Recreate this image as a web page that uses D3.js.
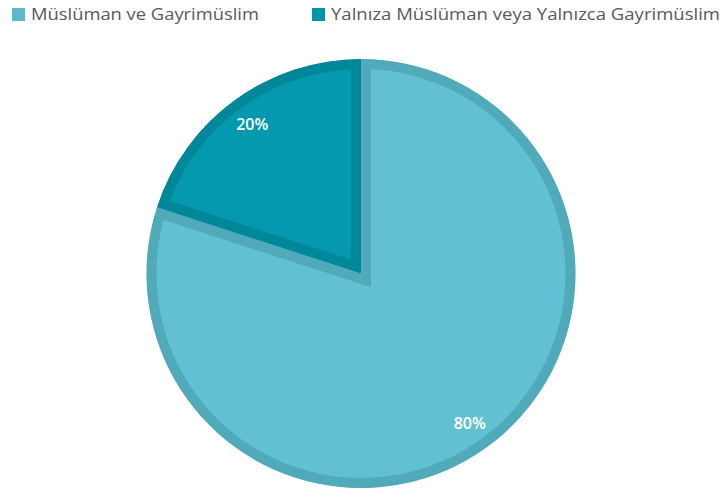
<!DOCTYPE html>
<html>
<head>
<meta charset="utf-8">
<script src="https://cdn.jsdelivr.net/npm/d3@7"></script>
<style>
  html, body { margin: 0; padding: 0; background: #ffffff; }
  svg { display: block; }
</style>
</head>
<body>
<div id="chart"></div>
<script>
const categories = ["Müslüman ve Gayrimüslim", "Yalnıza Müslüman veya Yalnızca Gayrimüslim"];
const values = [80, 20];
const labels = ["80%", "20%"];
const fillColors = ["#62c0d3", "#0499ae"];
const borderColors = ["#51aab9", "#01879a"];
const legendColors = ["#5ab9cc", "#0095a8"];

const W = 722, H = 493;
const cx = 361, cy = 273.5, R = 214.5;
const border = 10;

const svg = d3.select("#chart").append("svg")
  .attr("width", W).attr("height", H);

const pie = d3.pie().sort(null).value(d => d);
const arcs = pie(values);
const arc = d3.arc().innerRadius(0).outerRadius(R);
const labelArc = d3.arc().innerRadius(185).outerRadius(185);

const defs = svg.append("defs");
arcs.forEach((a, i) => {
  defs.append("clipPath").attr("id", "clip" + i)
    .append("path").attr("d", arc(a));
});

const g = svg.append("g").attr("transform", `translate(${cx},${cy})`);

g.selectAll("path.slice")
  .data(arcs)
  .join("path")
  .attr("class", "slice")
  .attr("d", arc)
  .attr("fill", (d, i) => fillColors[i])
  .attr("stroke", (d, i) => borderColors[i])
  .attr("stroke-width", border * 2)
  .attr("stroke-linejoin", "miter")
  .attr("clip-path", (d, i) => `url(#clip${i})`);

g.selectAll("text.lbl")
  .data(arcs)
  .join("text")
  .attr("class", "lbl")
  .attr("transform", d => `translate(${labelArc.centroid(d)})`)
  .attr("text-anchor", "middle")
  .attr("dy", "0.36em")
  .attr("fill", "#ffffff")
  .attr("font-family", "'Open Sans', 'DejaVu Sans', sans-serif")
  .attr("font-weight", 600)
  .attr("font-size", 16)
  .text((d, i) => labels[i]);

// Legend
const legendX = [12, 312];
const legendTextLen = [228, 389];
const lg = svg.append("g");
categories.forEach((c, i) => {
  lg.append("rect")
    .attr("x", legendX[i]).attr("y", 8)
    .attr("width", 13).attr("height", 13)
    .attr("fill", legendColors[i]);
  lg.append("text")
    .attr("x", legendX[i] + 19).attr("y", 20)
    .attr("fill", "#595959")
    .attr("font-family", "'Open Sans', 'DejaVu Sans', sans-serif")
    .attr("font-size", 16.5)
    .attr("textLength", legendTextLen[i])
    .attr("lengthAdjust", "spacingAndGlyphs")
    .text(c);
});
</script>
</body>
</html>
